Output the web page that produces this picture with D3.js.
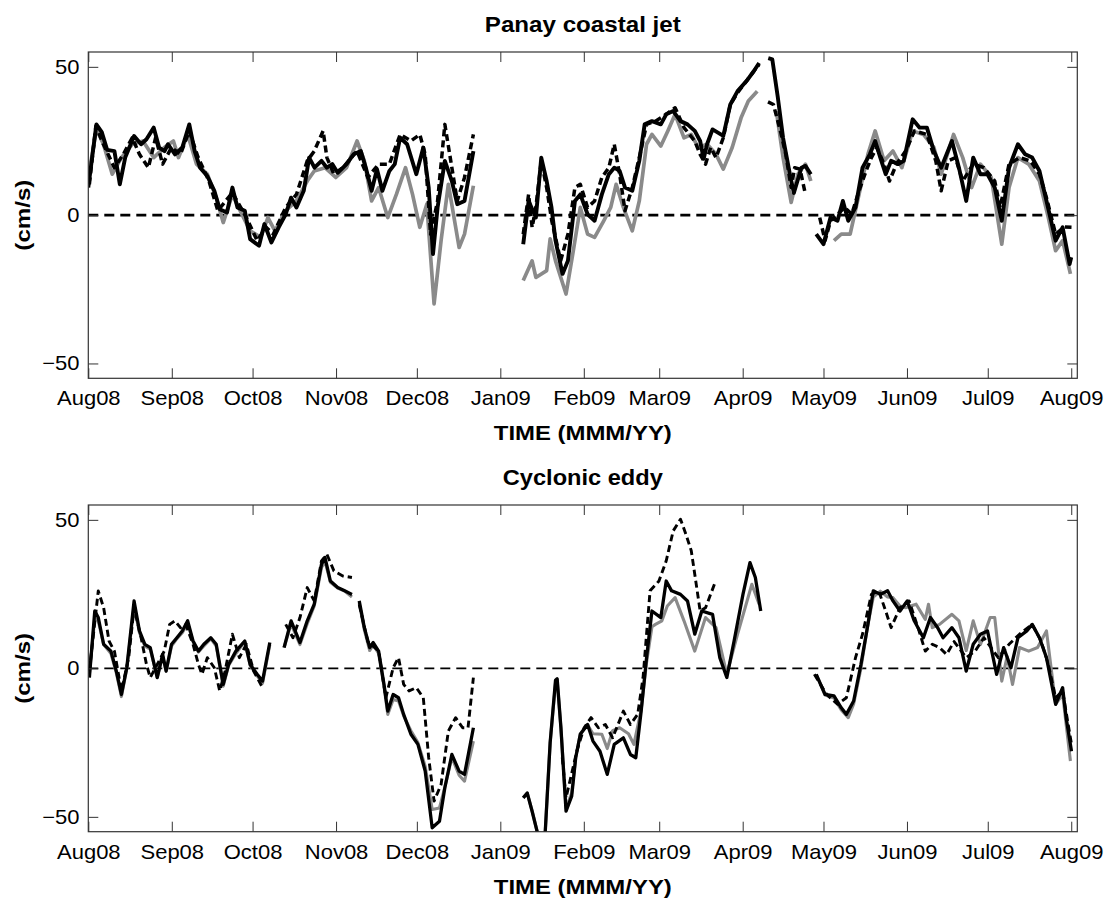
<!DOCTYPE html>
<html>
<head>
<meta charset="utf-8">
<script src="https://cdn.jsdelivr.net/npm/d3@7"></script>
<style>
  body { margin: 0; background: #fff; }
  text { font-family: "Liberation Sans", Arial, Helvetica, sans-serif; fill: #000; }
</style>
</head>
<body>
<div id="chart"></div>
<script>
// ----- giorni dal 1 agosto 2008, valori in cm/s (null = interruzione)
var jetGray = [[0,12.7],[3,29],[5.6,24],[8.9,13.8],[12.3,19.4],[16.3,23.9],[20.3,25],[24.3,19.4],[28.2,22.8],[31.6,25],[33.5,19.4],[36.9,27.2],[40.2,17.2],[44.2,13.8],[47.5,5.9],[50.1,-2.5],[53.5,7],[56.1,2],[60.1,-5.3],[64,-7.5],[66.7,-0.8],[69.3,-5.3],[73.3,1.5],[77.3,4.8],[81.3,11.5],[83.9,14.9],[87.9,16],[91.9,12.7],[95.9,16],[99.8,25],[102.5,18.3],[105.2,4.8],[107.8,9.3],[111.2,-0.8],[114.4,7],[117.8,16],[120.4,7],[123.1,-4.1],[125.7,3.7],[128.4,-29.9],[131,-8.6],[133.7,10.4],[137.7,-10.9],[139.7,-6.4],[143,9.9],
  [150,null],
  [161.5,-22],[164.8,-15.4],[166.2,-21],[170.2,-18.7],[171.5,-8],[173.5,-15.4],[177.4,-26.6],[180.1,-12],[182.7,2.6],[185.4,-6.4],[188,-7.5],[191.4,-1.9],[194,2.6],[196,10.4],[198.7,2.6],[202,-5.3],[204.6,4.8],[207.3,23.9],[209.3,27.2],[212.6,23.3],[215.2,28.4],[217.9,34],[221.2,26.1],[223.9,27.2],[226.5,22.8],[229.8,23.9],[233.1,20.5],[235.8,15.5],[239.1,22.8],[242.4,32.8],[245.1,38.5],[248.4,41.8],
  [252,null],
  [255.5,35],[258,19.4],[261,4.3],[263.5,13.8],[266.3,17.2],[268.3,11.5],
  [272,null],
  [276.9,-8.6],[279.6,-6.4],[282.9,-6.4],[286.2,7],[289.5,20.5],[292.2,28.4],[295.5,18.3],[298.8,21.6],[302.1,16],[306.1,28.4],[310.1,27.2],[314,22.8],[316.7,13.8],[321.3,27.2],[324.7,19.4],[328,9.3],[331.3,17.2],[335.3,12.7],[339.2,-9.8],[341.9,9.3],[345.2,19.4],[349.2,17.2],[353.2,11.5],[356.5,-0.8],[359.2,-12],[361.8,-8.6],[364.7,-19.8]];

var jetBlack = [[0,9.3],[3,30.6],[5,28],[7,22],[9.7,21.6],[11.7,10.4],[13.7,19.4],[17,26.7],[19.6,23.9],[21.6,25.6],[24.3,29.5],[26.3,22.8],[28.3,21.6],[29.6,23.9],[32.2,20.5],[34.9,22.8],[37.5,30.6],[39.5,21.6],[41.5,16],[44.2,13.2],[46.8,8.2],[48.8,2],[51.5,0.9],[53.5,9.3],[55.4,2.6],[58.1,1.5],[60.1,-8.1],[63.4,-10.3],[65.4,-3],[68,-9.2],[70.7,-4.1],[73.3,0.3],[75.3,5.9],[77.3,2.6],[80,8.2],[82,19.4],[84,16],[86.6,18.3],[88.6,16],[90.6,17.2],[92.6,14.3],[95.9,17.2],[98.5,20.5],[101.2,21.6],[103.2,15.5],[105.2,8.2],[107.2,15.5],[109.2,8.2],[111.8,14.9],[113.8,17.2],[115.8,26.1],[118.4,23.9],[121.8,13.8],[124.4,22.8],[126.4,9.3],[128,-13.1],[129.7,2.6],[132.4,18.3],[135,11.5],[137,3.7],[139.7,4.8],[143,21.6],
  [150,null],
  [161.5,-9.8],[163.5,4.8],[166.2,-0.8],[168.2,19.4],[170.2,11.5],[172,2.6],[173.5,-8.6],[176.1,-19.8],[178.1,-15.4],[180.7,4.8],[182.7,7],[185.4,0.3],[188,-1.9],[190.7,7],[193.3,13.8],[195.3,16],[197.3,14.9],[199.3,9.3],[202,8.2],[204.6,18.3],[206.6,30.6],[209.3,31.7],[212.6,30.6],[214.6,34],[217.2,35.1],[219.9,31.7],[222.5,30.6],[225.2,28.4],[227.2,25],[228.5,19],[229.8,24],[231.8,28.9],[235.8,26.7],[238.4,37.3],[241.1,41.8],[244.4,45.2],[247.1,48.5],[249.1,51.3],
  [250.8,null],
  [252.5,52.9],[254,52.5],[256,40],[258,26],[260.7,13],[262,7.5],[263.5,12],[264.8,16],[266.3,16.6],[268.3,13.8],
  [269.5,null],
  [270.3,-6.4],[273,-9.8],[275.6,-0.8],[278.2,-1.9],[280.2,4.8],[282.2,-1.9],[284.9,2.6],[287.5,16],[290.2,20.5],[292.2,25],[294.1,19.4],[296.1,13.8],[298.1,18.3],[300.8,17.2],[302.8,18.3],[306.1,32.3],[308.7,29.5],[311.4,29.5],[314,21.6],[316.7,16],[320.7,25],[323.3,16],[326,4.8],[328.6,19.4],[331.3,13.8],[333.9,13.8],[336.6,9.3],[339.2,-1.9],[341.9,16],[345.2,23.9],[347.9,20.5],[350.5,19.4],[353.2,14.9],[355.8,4.8],[359.2,-8.6],[361.8,-4.1],[364.4,-16.5],[365,-14.2]];

var jetDash = [[0.4,10.4],[2.8,30],[5.6,23.9],[9.7,16],[13,20.5],[16.3,26.1],[19,20.5],[22.3,16],[25,26.1],[27.6,17.2],[30.9,22.8],[34.2,20.5],[37.5,28.4],[40.8,19.4],[44.8,11.5],[48.1,1.5],[53.5,7.6],[58.7,-0.8],[62.7,-8.6],[66,-4.1],[68.7,-6.4],[73.3,2.6],[77.3,7],[81.3,18.3],[83.9,21.6],[87.2,28.4],[88.6,19.4],[91.2,13.8],[94.5,16],[99.8,21.6],[103.8,12.7],[107.8,17.2],[111.8,17.2],[115.8,27.2],[119.8,25],[123.1,27.2],[125.1,20.5],[127.1,-6.4],[129.7,4.8],[132.4,30.6],[134.4,19.4],[137,4.8],[139.7,12.7],[143,27.2],
  [150,null],
  [161.5,-6.4],[163.5,7],[164.8,-4.1],[166.2,2.6],[168.2,18.3],[170.2,9.3],[172.1,-1.9],[175.4,-15.4],[178.1,-6.4],[180.7,9.3],[182.7,10.4],[185.4,2.6],[188,4.8],[190.7,12.7],[193.3,16],[195.3,23.9],[197.3,13.8],[199.3,1.5],[202,9.3],[204.6,19.4],[207.3,30.6],[210.6,31.7],[214.6,34],[217.9,36.2],[221.2,29.5],[225.2,25],[227.2,20.5],[229.2,17.2],[231.1,22.8],[233.1,19.4],[235.8,26.1],[238.4,37.3],[241.1,41.3],[244.4,45.2],[247.1,48.5],[249.1,50.8],
  [250.8,null],
  [252.4,38.2],[254.4,37.3],[257,28.4],[259,20.5],[261,9.3],[262.3,16],[264.3,15.5],[266.3,7],
  [269,null],
  [271.6,-0.8],[273.6,-8.6],[275.6,-1.9],[278.2,0.3],[280.9,2.6],[283.5,0.3],[286.2,8.2],[288.8,14.9],[290.8,19.4],[292.8,22.8],[295.5,17.2],[297.5,11.5],[300.1,17.2],[303.5,21.6],[306.8,28.4],[311.4,27.2],[314.7,18.3],[316.7,8.2],[319.3,18.3],[322,19.4],[324.7,11.5],[328.6,17.2],[332.6,16],[336.6,11.5],[338.6,2.6],[341.9,17.2],[345.8,19.4],[349.8,18.3],[353.2,13.8],[355.8,5.9],[359.2,-6.4],[362.5,-4],[365.1,-4.1]];

var eddyGray = [[0.4,-2],[2.4,17],[3.7,16],[5.7,8],[8.4,5],[10.4,-1.5],[12.3,-9.5],[14.3,0],[17,21],[19,12],[21,7.5],[23,6.5],[25.6,-3],[27.6,4],[28.9,-1],[30.9,7.5],[32.9,10],[34.9,12],[36.9,15],[38.9,9],[40.9,5.5],[42.9,7.5],[45.5,10],[47.5,7.5],[50.1,-6],[52.1,1],[54.8,5],[58.1,9],[60.1,1],[62.7,-2.5],[64.7,-5],[67.4,8],
  [70,null],
  [72.7,7],[75.3,15],[78.6,8],[81.3,15],[83.9,21],[86.6,34],[87.9,36],[89.9,29],[92.6,27],[95.2,26],[97.9,24],
  [99,null],
  [100.6,22],[102.5,13],[104.5,6],[105.8,8],[107.8,5],[109.8,-6],[111.2,-15.5],[113.2,-10.5],[115.2,-11],[117.1,-16],[119.8,-21],[122.4,-25],[125.1,-33],[127.7,-47.5],[130.4,-47],[132.4,-40],[135,-30],[137.7,-36],[139.7,-38],[143,-24.5],
  [150,null],
  [161.5,-43.6],[163,-42],[164.8,-48],[167.5,-58],[169.5,-58],[171.5,-25],[173.5,-5],[174.1,-4],[175.5,-20],[177.4,-47],[179.5,-42],[181,-30],[182.7,-22],[185.4,-19],[187.4,-22],[190.7,-22.2],[192.7,-27],[194.7,-21],[197.3,-20],[200.6,-22],[202.6,-25.6],[205.3,-14],[207.3,2],[209.3,14],[210.6,14.8],[213,16],[215,21],[217.9,23.8],[221.2,16],[225.2,5.8],[229.2,17.1],[233.1,13.7],[237.1,-2],[241.1,11.5],[246.4,28.3],[249.1,21.6],
  [255,null],
  [270.3,-2],[273.6,-9],[276.9,-10],[279.6,-14],[282.2,-16.6],[284.2,-12],[286.9,0],[289.5,14.8],[291.5,24],[294.1,26],[296.8,24],[298.8,23.8],[301.4,21],[303.5,20.4],[307.4,21.6],[310.8,16.5],[312,21.6],[313.4,13.7],[316.1,14.8],[320.7,18.2],[323.3,16],[326,6],[328.6,16],[331.3,8],[334.9,17.1],[336.6,17.1],[339.2,-4.3],[341.2,4],[343.2,-5.4],[345.8,7],[349.2,5.8],[352.5,7],[355.8,12.6],[359.2,-12.1],[361.8,-8.7],[364.7,-31.2]];

var eddyBlack = [[0.4,-3.1],[2.4,19.3],[3.7,17.1],[5.7,8.1],[8.4,5.8],[10.4,-0.9],[12.3,-8.8],[14.3,0.2],[17,22.7],[19,12.6],[21,8.1],[23,7],[25.6,-3.1],[27.6,4.7],[28.9,-0.9],[30.9,8.1],[32.9,10.3],[34.9,12.6],[36.9,16],[38.9,9.2],[40.9,5.8],[42.9,8.1],[45.5,10.3],[47.5,8.1],[50.1,-5.4],[52.1,1.3],[54.8,5.8],[58.1,9.2],[60.1,1.3],[62.7,-2],[64.7,-4.3],[67.4,8.7],
  [70,null],
  [72.7,7],[75.3,16],[78.6,8.7],[81.3,16],[83.9,21.6],[86.6,35.1],[87.9,37.3],[89.9,29.4],[92.6,27.2],[95.2,26.1],[97.9,24.9],
  [99,null],
  [100.6,22.7],[102.5,13.7],[104.5,7],[105.8,8.7],[107.8,5.8],[109.8,-5.4],[111.2,-14.4],[113.2,-8.8],[115.2,-9.9],[117.1,-15.5],[119.8,-22.2],[122.4,-25.6],[125.1,-34.6],[127.7,-53.7],[130.4,-51.5],[132.4,-40.2],[135,-29],[137.7,-34.6],[139.7,-35.7],[143,-20],
  [150,null],
  [161.5,-43.6],[163,-42],[164.8,-48.1],[167.5,-58],[169.5,-58],[171.5,-25],[173.5,-4],[174.1,-3.5],[175.5,-20],[177.4,-48.1],[179.5,-43],[181,-30],[182.7,-22.2],[185.4,-18.9],[187.4,-24.5],[190,-27.9],[192.7,-35.7],[195.3,-25.6],[198.7,-23.4],[201.3,-29],[203.3,-30.1],[205.3,-14.4],[207.3,3.6],[209.3,19.3],[212.6,17.1],[214.6,29.4],[216.6,26.1],[219.9,24.9],[222.5,22.7],[225.2,11.5],[227.8,19.3],[231.8,18.2],[234.5,3.6],[237.1,-3.1],[239.8,9.2],[243.1,24.9],[245.7,35.6],[247.7,30.6],[249.7,19.3],
  [255,null],
  [270.3,-2],[273.6,-8.8],[276.9,-9.3],[279.6,-13.3],[281.5,-15.5],[284.2,-11],[286.9,1.3],[289.5,14.8],[291.5,26.1],[294.1,24.9],[296.8,26.1],[298.8,22.7],[301.4,19.3],[304.1,22.7],[306.7,16],[310.1,10.3],[312.7,17.1],[315.4,13.7],[317.4,10.3],[320.7,13.7],[323.3,10.3],[326,-0.9],[328.6,8.1],[331.3,11.5],[333.9,12.6],[337.3,-2],[339.9,7],[342.6,0.2],[345.2,10.3],[348.5,12.6],[350.5,14.8],[353.2,10.3],[355.8,3.6],[359.2,-12.1],[361.8,-6.5],[363.1,-16.6],[365.1,-27.9]];

var eddyDash = [[0.4,-1],[3.7,26.1],[5.7,20.4],[7.7,9.2],[9.7,5.8],[12.3,-7.6],[15,3.6],[17,20.4],[19.6,10.3],[21.6,1.3],[23,-3.1],[25.6,1.3],[28.2,5.8],[30.2,14.8],[32.2,16],[34.2,13.7],[36.2,14.8],[38.9,8.1],[40.9,1.3],[42.2,-2],[44.2,3.6],[46.8,0.2],[48.8,-7.6],[50.8,-0.9],[53.5,11.5],[56.1,3.6],[58.7,8.1],[61.4,-0.9],[64.7,-6.5],
  [70,null],
  [73.3,14.8],[76,10.3],[78.6,17.1],[81.3,27.2],[83.9,22.7],[86.6,36.2],[88.6,38.4],[91.2,32.8],[94.5,31.1],[97.9,30.6],
  [99,null],
  [100.6,21.5],[103.8,9],[107.8,5.8],[110.5,-9.9],[113.2,0.2],[115.2,3.6],[117.1,-5.4],[119.1,-7.6],[121.8,-6.5],[124.4,-9.9],[126.4,-30.1],[128.4,-44.7],[131,-39.1],[133.7,-21.1],[136.4,-16.6],[139,-20],[141,-20],[143,-3.1],
  [150,null],
  [176,-30],[177.4,-43.6],[181.4,-27.9],[184.1,-20],[186.7,-16.6],[189.4,-20],[192,-18.9],[194.7,-23.4],[198.7,-14.4],[201.3,-18.9],[204,-15.5],[206,-3.1],[208.6,26.1],[211.9,29.4],[214.6,36.2],[217.2,46.3],[219.9,50.2],[221.9,45.2],[223.9,39.6],[225.2,31.7],[227.2,19.3],[229.2,20.4],[232.5,28.3],
  [240,null],
  [269.6,-2],[274.2,-8.8],[278.2,-12.1],[281.5,-9.9],[284.9,3.6],[287.5,11.5],[290.8,24.9],[293.5,26.1],[296.1,19.3],[298.1,13.7],[301.4,20.4],[304.8,22.7],[308.1,13.7],[310.8,5.8],[313.4,8.1],[316.1,7],[318.7,4.7],[321.5,9],[326,3.6],[329.3,5.8],[332.6,10.3],[337.9,3.6],[341.9,8.1],[345.8,11.5],[350.5,14.8],[353.8,9.2],[356.5,1.3],[359.2,-9.9],[361.8,-7.6],[365.1,-25.6]];

var titles = ["Panay coastal jet", "Cyclonic eddy"];
var yTicks = [-50, 0, 50];
var yDomain = [-55, 55];

// ----- dimensioni
var w = 1108, h = 900;
var left = 88.3, right = 1077.3;
var panels = [
  { top: 52, bottom: 378.3, title: titles[0], series: [jetGray, jetBlack, jetDash], lw: 3.9, zw: 2.6 },
  { top: 505, bottom: 831.7, title: titles[1], series: [eddyGray, eddyBlack, eddyDash], lw: 3.3, zw: 1.6 }
];
var t0 = Date.UTC(2008, 7, 1);
function toDate(d) { return new Date(t0 + d * 864e5); }

var svg = d3.select('#chart').append('svg').attr('width', w).attr('height', h);

var x = d3.scaleUtc().domain([toDate(0), toDate(367.25)]).range([left, right]);
var months = d3.utcMonth.range(toDate(0), toDate(366));
var fmt = d3.utcFormat('%b%y');

// grigio, nero continuo, nero tratteggiato
var styles = [
  { stroke: '#8a8a8a', dash: null, extra: -0.2 },
  { stroke: '#000', dash: null, extra: 0 },
  { stroke: '#000', dash: '7,4', extra: -0.4 }
];

panels.forEach(function (p, i) {
  var y = d3.scaleLinear().domain(yDomain).range([p.bottom, p.top]);
  var g = svg.append('g');

  var clipId = 'clip' + i;
  svg.append('defs').append('clipPath').attr('id', clipId)
    .append('rect').attr('x', left).attr('y', p.top).attr('width', right - left).attr('height', p.bottom - p.top);

  // ----- linea dello zero
  g.append('line')
    .attr('x1', left).attr('x2', right)
    .attr('y1', y(0)).attr('y2', y(0))
    .attr('stroke', '#000').attr('stroke-width', p.zw)
    .attr('stroke-dasharray', '10,6');

  var line = d3.line()
    .defined(function (d) { return d[1] !== null; })
    .x(function (d) { return x(toDate(d[0])); })
    .y(function (d) { return y(d[1]); });

  var lines = g.append('g').attr('clip-path', 'url(#' + clipId + ')');
  p.series.forEach(function (s, k) {
    lines.append('path')
      .attr('d', line(s))
      .attr('fill', 'none')
      .attr('stroke', styles[k].stroke)
      .attr('stroke-width', p.lw + styles[k].extra)
      .attr('stroke-dasharray', styles[k].dash)
      .attr('stroke-linejoin', 'round');
  });

  // ----- assi con tacche interne stile MATLAB
  var ax = g.append('g').attr('transform', 'translate(0,' + p.bottom + ')')
    .call(d3.axisBottom(x).tickValues(months).tickFormat(fmt).tickSize(-10).tickSizeOuter(0).tickPadding(13));
  g.append('g').attr('transform', 'translate(0,' + p.top + ')')
    .call(d3.axisTop(x).tickValues(months).tickFormat('').tickSize(-10).tickSizeOuter(0));
  var ay = g.append('g').attr('transform', 'translate(' + left + ',0)')
    .call(d3.axisLeft(y).tickValues(yTicks).tickSize(-10).tickSizeOuter(0).tickPadding(8));
  g.append('g').attr('transform', 'translate(' + right + ',0)')
    .call(d3.axisRight(y).tickValues(yTicks).tickFormat('').tickSize(-10).tickSizeOuter(0));

  g.selectAll('.domain').remove();
  g.selectAll('.tick line').attr('stroke', '#333').attr('stroke-width', 1);
  g.selectAll('.tick text').attr('font-size', 20).attr('fill', '#000')
    .attr('font-family', '"Liberation Sans", Arial, sans-serif');
  ax.selectAll('.tick text').attr('transform', 'scale(1.1,1)');
  ay.selectAll('.tick text').attr('transform', 'scale(1.1,1)');

  // ----- cornice
  g.append('rect')
    .attr('x', left).attr('y', p.top)
    .attr('width', right - left).attr('height', p.bottom - p.top)
    .attr('fill', 'none').attr('stroke', '#333').attr('stroke-width', 1.2);

  var cx = (left + right) / 2;
  g.append('text')
    .attr('x', cx).attr('y', p.top - 20)
    .attr('text-anchor', 'middle')
    .attr('font-size', 22).attr('font-weight', 'bold')
    .attr('textLength', p.title.length > 14 ? 196 : 160).attr('lengthAdjust', 'spacingAndGlyphs')
    .text(p.title);

  g.append('text')
    .attr('x', cx).attr('y', p.bottom + 62)
    .attr('text-anchor', 'middle')
    .attr('font-size', 21).attr('font-weight', 'bold')
    .attr('textLength', 178).attr('lengthAdjust', 'spacingAndGlyphs')
    .text('TIME (MMM/YY)');

  g.append('text')
    .attr('transform', 'translate(30,' + ((p.top + p.bottom) / 2) + ') rotate(-90)')
    .attr('text-anchor', 'middle')
    .attr('font-size', 21).attr('font-weight', 'bold')
    .attr('textLength', 71).attr('lengthAdjust', 'spacingAndGlyphs')
    .text('(cm/s)');
});
</script>
</body>
</html>
